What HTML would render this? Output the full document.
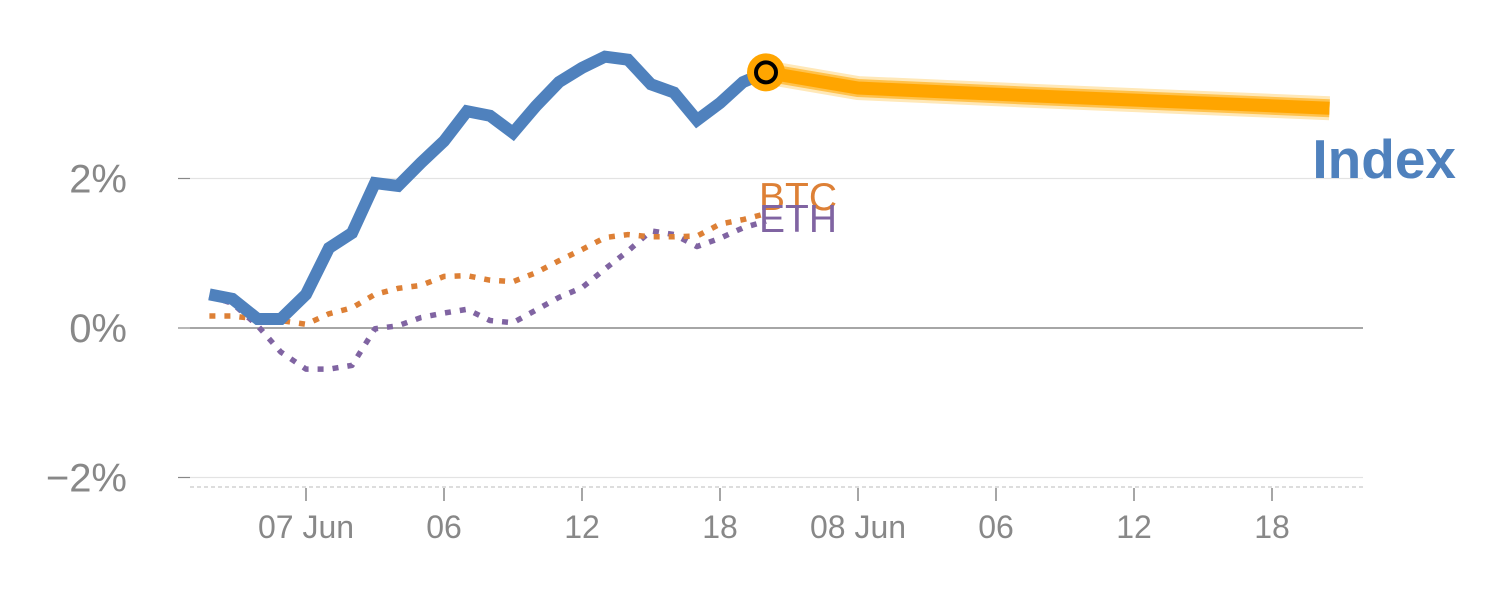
<!DOCTYPE html>
<html><head><meta charset="utf-8"><style>
html,body{margin:0;padding:0;background:#fff;}
svg text{font-family:"Liberation Sans",sans-serif;}
</style></head><body>
<svg id="chart" width="1500" height="600" xmlns="http://www.w3.org/2000/svg"></svg>
<script>
const hours = [-4.2,-3.2,-2.1,-1.1,0,1,2,3,4,5,6,7,8,9,10,11,12,13,14,15,16,17,18,19,20];
const indexValues = [0.45,0.39,0.12,0.12,0.45,1.07,1.27,1.94,1.90,2.21,2.50,2.90,2.84,2.61,2.97,3.29,3.48,3.63,3.59,3.26,3.15,2.78,3.01,3.29,3.42];
const btcValues = [0.16,0.16,0.12,0.10,0.05,0.19,0.27,0.45,0.53,0.57,0.69,0.70,0.64,0.62,0.74,0.90,1.05,1.21,1.25,1.22,1.22,1.23,1.39,1.45,1.53];
const ethValues = [0.43,0.33,0.03,-0.32,-0.55,-0.55,-0.50,-0.01,0.03,0.14,0.20,0.25,0.10,0.07,0.24,0.41,0.54,0.79,1.03,1.30,1.25,1.09,1.20,1.34,1.43];
const forecastHours = [20,24,32,44.5];
const forecastValues = [3.42,3.21,3.10,2.94];
const yTicks = [-2,0,2];
const yTickLabels = ["\u22122%","0%","2%"];
const xTicks = [0,6,12,18,24,30,36,42];
const xTickLabels = ["07 Jun","06","12","18","08 Jun","06","12","18"];

const NS="http://www.w3.org/2000/svg";
const svg=document.getElementById('chart');
const X=h=>306+h*23;
const Y=v=>328-v*74.75;
function mk(tag,attrs,parent){const e=document.createElementNS(NS,tag);for(const k in attrs)e.setAttribute(k,attrs[k]);(parent||svg).appendChild(e);return e;}

yTicks.forEach((t,i)=>{
  const g=mk('line',{x1:190,x2:1363,y1:Y(t),y2:Y(t),stroke:t===0?'#888':'#e3e3e3','stroke-width':t===0?1.5:1.2});
  
  
  const tk=mk('line',{x1:178,x2:190,y1:Y(t),y2:Y(t),stroke:'#888','stroke-width':1.2});
  
  
  const tx=mk('text',{x:127,y:Y(t)+14,'text-anchor':'end','font-size':40,fill:'#888'});
  tx.textContent=yTickLabels[i];
  
  
});
const base=mk('line',{x1:190,x2:1365,y1:487,y2:487,stroke:'#ddd','stroke-width':2,'stroke-dasharray':'4,3'});


xTicks.forEach((t,i)=>{
  const tk=mk('line',{x1:X(t),x2:X(t),y1:488,y2:501,stroke:'#888','stroke-width':1.5});
  
  
  const tx=mk('text',{x:X(t),y:538,'text-anchor':'middle','font-size':32,fill:'#888'});
  tx.textContent=xTickLabels[i];
  
  
});
function pts(hs,vs){return hs.map((h,i)=>X(h)+','+Y(vs[i])).join(' ');}
const eth=mk('polyline',{points:pts(hours,ethValues),fill:'none',stroke:'#8064a2','stroke-width':5.5,'stroke-dasharray':'6,9','stroke-linejoin':'round'});


const btc=mk('polyline',{points:pts(hours,btcValues),fill:'none',stroke:'#dd8036','stroke-width':5.5,'stroke-dasharray':'6,9','stroke-linejoin':'round'});


const idx=mk('polyline',{points:pts(hours,indexValues),fill:'none',stroke:'#4f81bd','stroke-width':12,'stroke-linejoin':'miter'});


[[24,'#ffe8b8'],[18,'#ffc24d'],[13,'#ffa500']].forEach(([w,c])=>{
  const f=mk('polyline',{points:pts(forecastHours,forecastValues),fill:'none',stroke:c,'stroke-width':w});
  
  
});
const m1=mk('circle',{cx:X(forecastHours[0]),cy:Y(forecastValues[0]),r:19,fill:'#ffa500'});


const m2=mk('circle',{cx:X(forecastHours[0]),cy:Y(forecastValues[0]),r:10,fill:'#ffa500',stroke:'#000','stroke-width':4});


const lb=mk('text',{x:759,y:210,'font-size':39,fill:'#dd8036'});lb.textContent='BTC';


const le=mk('text',{x:759,y:232,'font-size':39,fill:'#8064a2'});le.textContent='ETH';


const li=mk('text',{x:1456,y:178,'text-anchor':'end','font-size':55,'font-weight':'bold',fill:'#4f81bd'});li.textContent='Index';


</script>
</body></html>
